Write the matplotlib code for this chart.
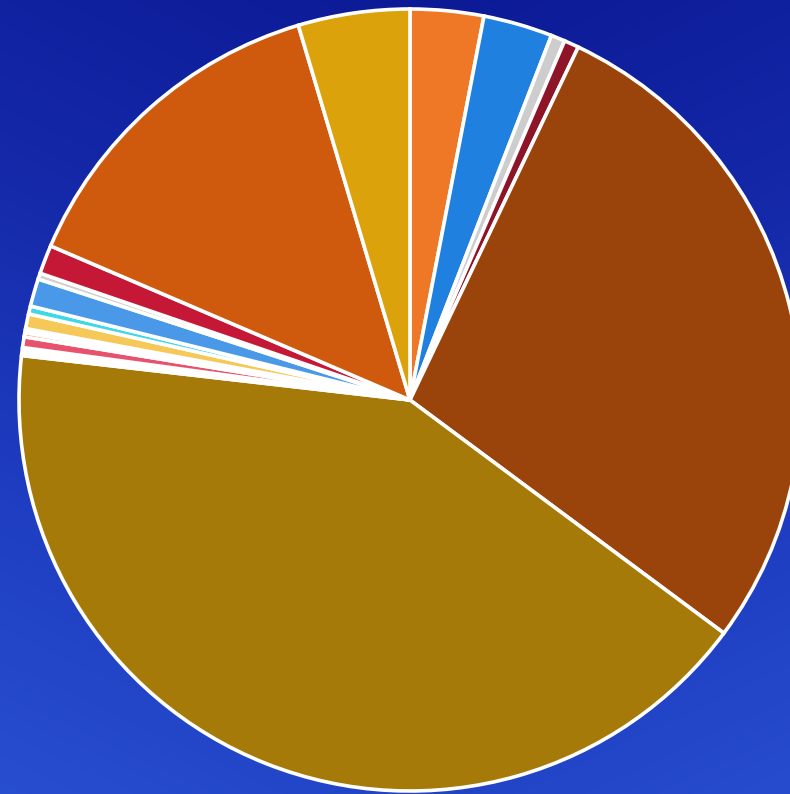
import numpy as np
import matplotlib
matplotlib.use("Agg")
import matplotlib.pyplot as plt
from matplotlib.colors import LinearSegmentedColormap

# Slice shares (%), clockwise from 12 o'clock
shares = [3.03, 2.86, 0.58, 0.61, 28.08, 41.64, 0.33, 0.44, 0.17, 0.17,
          0.61, 0.33, 1.14, 0.25, 1.19, 13.94, 4.61]
colors = ["#EF7826", "#1F80E0", "#CDCDCD", "#8E1428", "#9A440B", "#A67A08",
          "#FFFFFF", "#E8526C", "#F07826", "#FFFFFF", "#F6C858", "#3ED8E6",
          "#4A98E8", "#CFCFCF", "#C41836", "#CF5A0E", "#DCA20C"]

W, H = 790, 794
fig = plt.figure(figsize=(W / 100, H / 100), dpi=100)
ax = fig.add_axes([0, 0, 1, 1])

# Background: blue gradient
yy, xx = np.mgrid[0:H, 0:W]
t = (yy / H) * 0.75 + np.abs(xx - W * 0.55) / W * 0.35
t = np.clip(t, 0, 1)
cmap = LinearSegmentedColormap.from_list("bg", ["#0C1A96", "#1428A8", "#1F3EC2", "#2A52D2"])
ax.imshow(cmap(t), extent=(0, W, 0, H), origin="upper", zorder=0, aspect="auto")

ax.pie(shares, colors=colors, startangle=90, counterclock=False,
       center=(410, H - 400), radius=391,
       wedgeprops=dict(edgecolor="white", linewidth=2.6, zorder=2))
ax.set_xlim(0, W)
ax.set_ylim(0, H)
ax.set_aspect("equal", adjustable="box")
ax.axis("off")

fig.savefig("out.png", dpi=100)
